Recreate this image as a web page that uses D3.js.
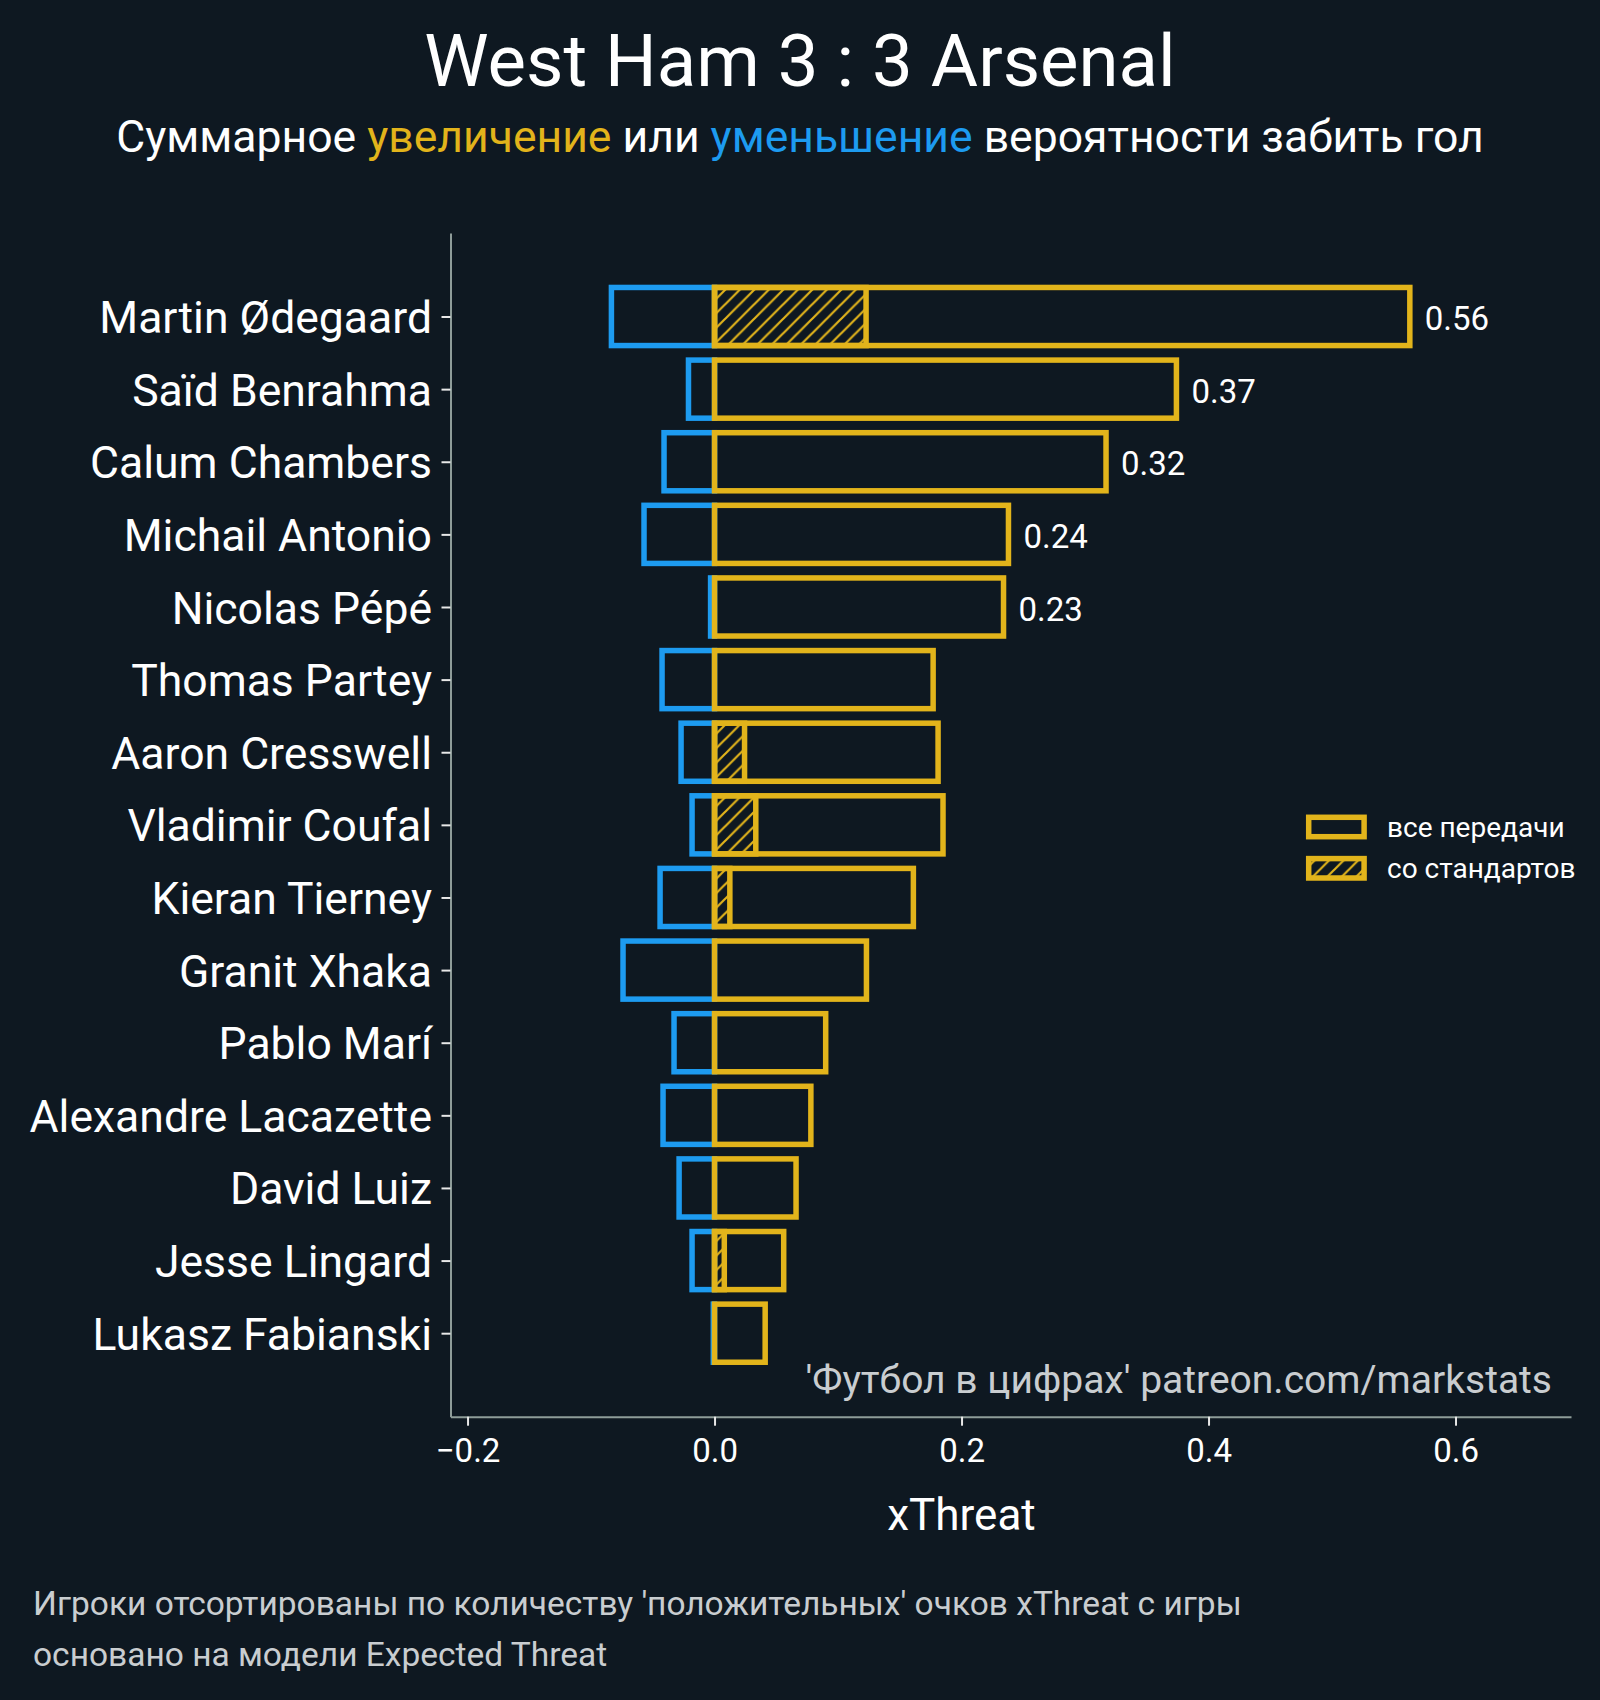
<!DOCTYPE html>
<html>
<head>
<meta charset="utf-8">
<script src="https://cdn.jsdelivr.net/npm/d3@7"></script>
<style>
  html, body { margin: 0; padding: 0; background: #0e1821; }
  svg { display: block; }
  text { font-family: Roboto, "Noto Sans", sans-serif; }
</style>
</head>
<body>
<svg id="chart" width="1600" height="1700"></svg>
<script>
// ---- data ----
const players = ["Martin Ødegaard","Saïd Benrahma","Calum Chambers","Michail Antonio","Nicolas Pépé","Thomas Partey","Aaron Cresswell","Vladimir Coufal","Kieran Tierney","Granit Xhaka","Pablo Marí","Alexandre Lacazette","David Luiz","Jesse Lingard","Lukasz Fabianski"];
const positive = [0.563,0.374,0.317,0.238,0.234,0.177,0.181,0.185,0.161,0.123,0.090,0.078,0.066,0.056,0.041];
const negative = [-0.0835,-0.0211,-0.0409,-0.0571,-0.0032,-0.0425,-0.0271,-0.0182,-0.0441,-0.0741,-0.0328,-0.0417,-0.0287,-0.0182,-0.0010];
const setPiece = [0.1227,0,0,0,0,0,0.0243,0.0334,0.0124,0,0,0,0,0.0079,0];
const labelCount = 5;
const xTicks = [-0.2,0.0,0.2,0.4,0.6];
const legendLabels = ["все передачи","со стандартов"];

const BG = "#0e1821", YEL = "#e2b41b", BLUE = "#1d9bf0", SPINE = "#8e9c99";

const svg = d3.select("#chart");
svg.append("rect").attr("width",1600).attr("height",1700).attr("fill",BG);

const defs = svg.append("defs");
const hs = 14.5;
const pat = defs.append("pattern").attr("id","hatch").attr("patternUnits","userSpaceOnUse")
  .attr("width",hs).attr("height",hs);
pat.append("path")
  .attr("d",`M0,${hs} L${hs},0 M-3,3 L3,-3 M${hs-3},${hs+3} L${hs+3},${hs-3}`)
  .attr("stroke",YEL).attr("stroke-width",2.2).attr("fill","none");

const x = d3.scaleLinear().domain([-0.2138,0.6935]).range([450.5,1571]);
const y = d3.scaleLinear().domain([-1.15,15.15]).range([233,1416.7]);
const bandH = (y(1)-y(0))*0.8;
const SW = 5.5;

// Title
svg.append("text").attr("x",800).attr("y",86).attr("text-anchor","middle")
  .attr("font-size",72.5).attr("fill","#ffffff").text("West Ham 3 : 3 Arsenal");
const sub = svg.append("text").attr("x",800).attr("y",152).attr("text-anchor","middle")
  .attr("font-size",44.5).attr("fill","#ffffff");
sub.append("tspan").text("Суммарное ");
sub.append("tspan").attr("fill",YEL).text("увеличение");
sub.append("tspan").text(" или ");
sub.append("tspan").attr("fill",BLUE).text("уменьшение");
sub.append("tspan").text(" вероятности забить гол");

const idx = d3.range(players.length);
const g = svg.append("g");

// negative bars
g.selectAll(".neg").data(idx).join("rect")
  .attr("x", i => x(negative[i])).attr("width", i => x(0)-x(negative[i]))
  .attr("y", i => y(i)-bandH/2).attr("height", bandH)
  .attr("fill","none").attr("stroke",BLUE).attr("stroke-width",SW);
// positive bars
g.selectAll(".pos").data(idx).join("rect")
  .attr("x", x(0)).attr("width", i => x(positive[i])-x(0))
  .attr("y", i => y(i)-bandH/2).attr("height", bandH)
  .attr("fill","none").attr("stroke",YEL).attr("stroke-width",SW);
// set piece hatched
g.selectAll(".sp").data(idx.filter(i => setPiece[i] > 0)).join("rect")
  .attr("x", x(0)).attr("width", i => x(setPiece[i])-x(0))
  .attr("y", i => y(i)-bandH/2).attr("height", bandH)
  .attr("fill","url(#hatch)").attr("stroke",YEL).attr("stroke-width",SW);

// value labels
g.selectAll(".val").data(idx.slice(0,labelCount)).join("text")
  .attr("x", i => x(positive[i])+15).attr("y", i => y(i)).attr("dy","0.41em")
  .attr("font-size",33).attr("fill","#ffffff")
  .text(i => positive[i].toFixed(2));

// axes
const yAxis = d3.axisLeft(y).tickValues(idx).tickFormat(i => players[i]).tickSize(9).tickSizeOuter(0).tickPadding(9.5);
const ya = svg.append("g").attr("transform",`translate(${x.range()[0]},0)`).call(yAxis);
ya.select(".domain").attr("stroke",SPINE).attr("stroke-width",2);
ya.selectAll(".tick line").attr("stroke","#e8e8e8").attr("stroke-width",2);
ya.selectAll(".tick text").attr("font-size",44.5).attr("fill","#ffffff").attr("dy","0.36em")
  .attr("font-family","Roboto, 'Noto Sans', sans-serif");

const xAxis = d3.axisBottom(x).tickValues(xTicks).tickFormat(d => d3.format(".1f")(d).replace("-","−")).tickSize(9).tickSizeOuter(0).tickPadding(13);
const xa = svg.append("g").attr("transform",`translate(0,${y.range()[1]})`).call(xAxis);
xa.select(".domain").attr("stroke",SPINE).attr("stroke-width",2);
xa.selectAll(".tick line").attr("stroke","#e8e8e8").attr("stroke-width",2);
xa.selectAll(".tick text").attr("font-size",33).attr("fill","#ffffff")
  .attr("font-family","Roboto, 'Noto Sans', sans-serif");

svg.append("text").attr("x",(x(0)+x(0.4))/2).attr("y",1530).attr("text-anchor","middle")
  .attr("font-size",44).attr("fill","#ffffff").text("xThreat");

// watermark
svg.append("text").attr("x",1552).attr("y",1393).attr("text-anchor","end")
  .attr("font-size",39).attr("fill","#c9cdd0").text("'Футбол в цифрах' patreon.com/markstats");

// legend
const lg = svg.append("g");
[0,1].forEach(k => {
  const cy = [827,868.3][k];
  lg.append("rect").attr("x",1308.7).attr("y",cy-9.7).attr("width",55.4).attr("height",19.4)
    .attr("fill", k===1 ? "url(#hatch)" : "none").attr("stroke",YEL).attr("stroke-width",SW);
  lg.append("text").attr("x",1387).attr("y",cy).attr("dy","0.36em")
    .attr("font-size",28).attr("fill","#ffffff").text(legendLabels[k]);
});

// footer
svg.append("text").attr("x",33).attr("y",1615).attr("font-size",33.5).attr("fill","#c9cdd0")
  .text("Игроки отсортированы по количеству 'положительных' очков xThreat с игры");
svg.append("text").attr("x",33).attr("y",1666).attr("font-size",33.5).attr("fill","#c9cdd0")
  .text("основано на модели Expected Threat");
</script>
</body>
</html>
